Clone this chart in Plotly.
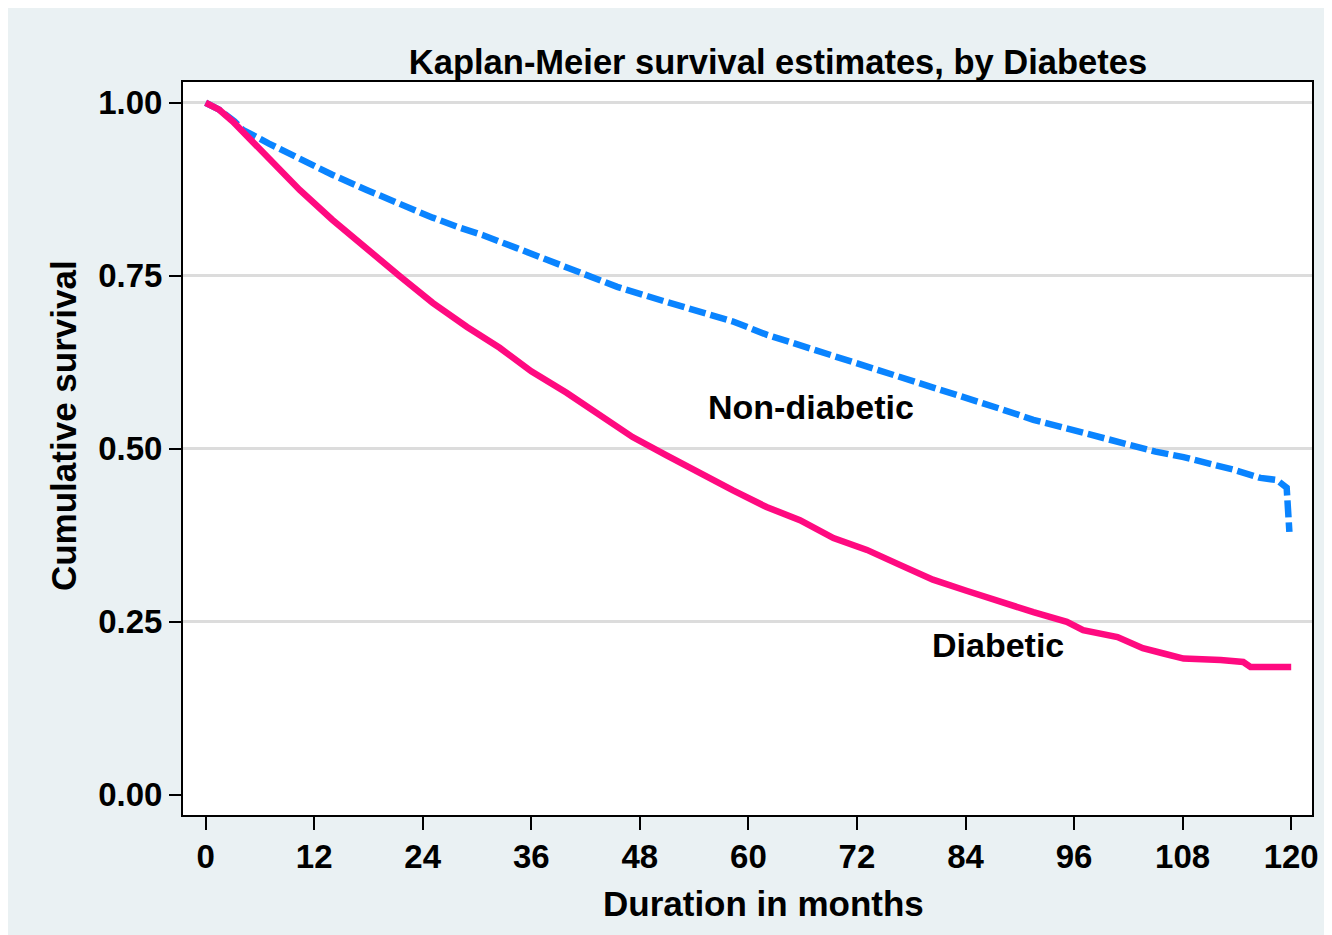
"""
Kaplan-Meier survival curves by diabetes status (Stata-style look)
"""
import plotly.graph_objects as go

# survival estimates
months_diab = [0, 1.5, 3.0, 6.7, 10.4, 14.0, 17.8, 21.5, 25.1, 28.9, 32.5, 36.0,
               39.9, 43.5, 47.2, 50.9, 54.6, 58.3, 62.0, 65.7, 69.4, 73.1, 76.8,
               80.4, 84.1, 87.8, 91.5, 95.2, 97.0, 100.8, 103.6, 106.0, 108.1,
               112.2, 114.7, 115.5, 120.0]
surv_diab = [1.000, 0.990, 0.973, 0.922, 0.874, 0.831, 0.788, 0.749, 0.711, 0.676,
             0.646, 0.612, 0.581, 0.549, 0.517, 0.491, 0.465, 0.440, 0.416, 0.397,
             0.371, 0.354, 0.332, 0.311, 0.295, 0.279, 0.264, 0.250, 0.238, 0.228,
             0.212, 0.204, 0.197, 0.195, 0.192, 0.185, 0.185]

months_nondiab = [0, 1.5, 3.2, 4.1, 7.0, 10.4, 14.0, 17.8, 21.5, 25.1, 28.0, 30.6,
                  34.4, 38.0, 41.7, 45.5, 51.0, 54.6, 58.3, 62.0, 65.7, 69.4, 72.0,
                  76.8, 80.5, 84.2, 87.8, 91.5, 95.0, 98.9, 102.5, 105.0, 108.1,
                  110.8, 113.6, 116.6, 118.4, 119.5, 119.6, 119.8]
surv_nondiab = [1.000, 0.990, 0.973, 0.961, 0.941, 0.918, 0.896, 0.874, 0.853, 0.834,
                0.820, 0.809, 0.790, 0.772, 0.754, 0.734, 0.712, 0.697, 0.684, 0.665,
                0.650, 0.635, 0.624, 0.604, 0.589, 0.575, 0.558, 0.542, 0.530, 0.517,
                0.503, 0.496, 0.488, 0.480, 0.470, 0.458, 0.455, 0.444, 0.400, 0.380]

x_ticks = [0, 12, 24, 36, 48, 60, 72, 84, 96, 108, 120]
y_ticks = [0.00, 0.25, 0.50, 0.75, 1.00]
y_grid = [0.25, 0.50, 0.75, 1.00]

FONT = "Liberation Sans, Arial, Helvetica, sans-serif"
BG = "#EAF1F3"
BOLD = dict(family=FONT, size=34, color='black', weight='bold')

fig = go.Figure()

fig.add_trace(go.Scatter(
    x=months_nondiab, y=surv_nondiab, mode='lines', name='Non-diabetic',
    line=dict(color='#0A84FF', width=6.5, dash='17px,5px')
))
fig.add_trace(go.Scatter(
    x=months_diab, y=surv_diab, mode='lines', name='Diabetic',
    line=dict(color='#FF0A80', width=6.5)
))

# gridlines only above zero, via an overlaid axis
fig.add_trace(go.Scatter(x=[None], y=[None], yaxis='y2', showlegend=False,
                         hoverinfo='skip'))

# curve labels
fig.add_annotation(x=66.9, y=0.561, text='Non-diabetic', showarrow=False, font=BOLD)
fig.add_annotation(x=87.6, y=0.217, text='Diabetic', showarrow=False, font=BOLD)

# axis titles (placed as in the original, slightly off-centre)
fig.add_annotation(text='Duration in months', xref='paper', yref='paper',
                   x=0.5146, y=-0.1214, xanchor='center', yanchor='middle',
                   showarrow=False, font=dict(BOLD, size=35))
fig.add_annotation(text='Cumulative survival', xref='paper', yref='paper',
                   x=-0.1063, y=0.532, xanchor='center', yanchor='middle',
                   textangle=-90, showarrow=False, font=dict(BOLD, size=35))

fig.update_layout(
    width=1324, height=927,
    margin=dict(l=175, r=20, t=74, b=120),
    paper_bgcolor=BG,
    plot_bgcolor='white',
    showlegend=False,
    title=dict(
        text='Kaplan-Meier survival estimates, by Diabetes',
        x=0.527, xref='paper', xanchor='center',
        y=1 - 54 / 927, yref='container', yanchor='middle',
        font=dict(family=FONT, size=34.5, color='black', weight='bold')
    ),
    xaxis=dict(
        range=[-2.5, 122.3], tickvals=x_ticks, showgrid=False, zeroline=False,
        showline=True, linecolor='black', linewidth=2, mirror=True,
        ticks='outside', ticklen=13, tickwidth=2, tickcolor='black',
        ticklabelstandoff=-2,
        tickfont=dict(family=FONT, size=33, color='black', weight='bold'),
    ),
    yaxis=dict(
        range=[-0.029, 1.030], tickvals=y_ticks, tickformat='.2f',
        showgrid=False, zeroline=False,
        showline=True, linecolor='black', linewidth=2, mirror=True,
        ticks='outside', ticklen=12, tickwidth=2, tickcolor='black',
        tickfont=dict(family=FONT, size=33, color='black', weight='bold'),
    ),
    yaxis2=dict(
        range=[-0.029, 1.030], tickvals=y_grid, overlaying='y',
        showgrid=True, gridcolor='#DCDCDC', gridwidth=3,
        showticklabels=False, zeroline=False, showline=False
    ),
)

fig.write_html("out.html")
